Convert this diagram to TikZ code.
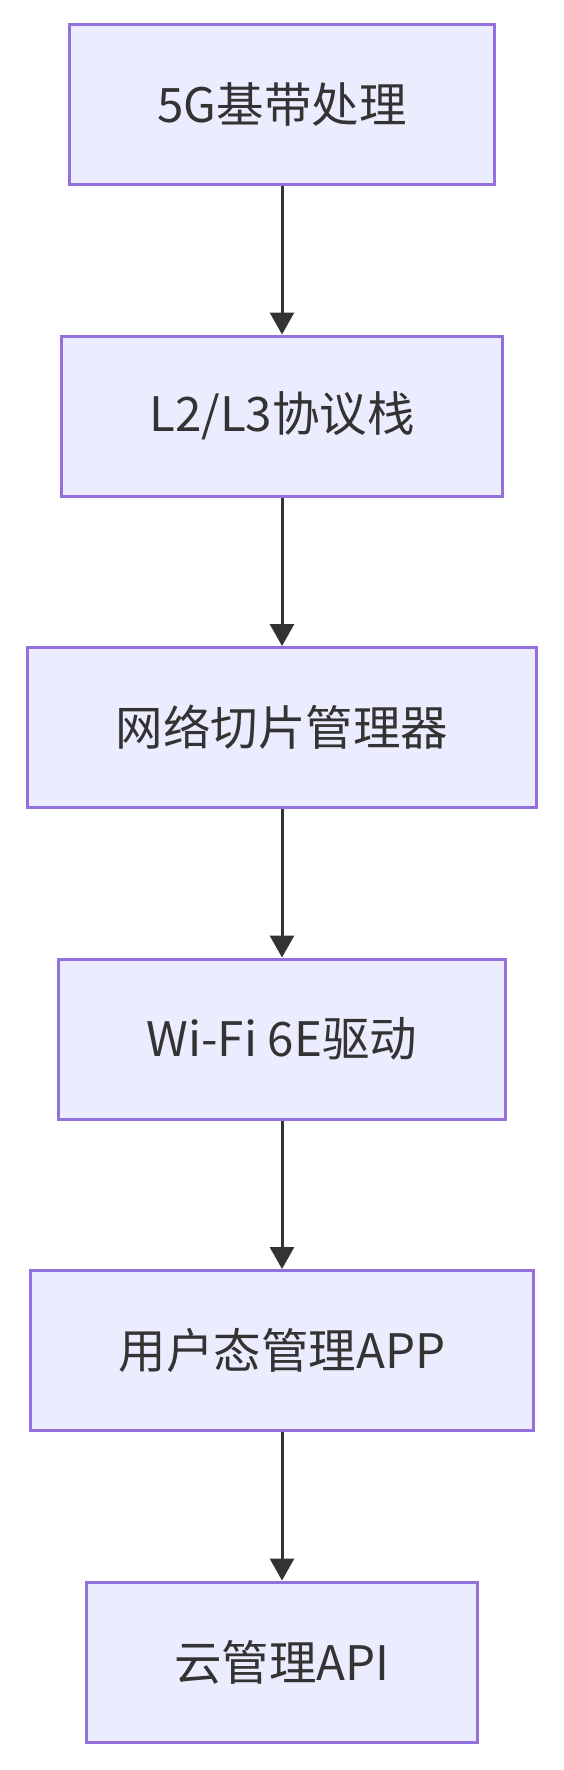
\documentclass[tikz,border=0pt]{standalone}
\usepackage{fontspec}
\setmainfont{Noto Sans CJK SC}
\usetikzlibrary{arrows.meta}
\usetikzlibrary{shapes,positioning}
\definecolor{boxFill}{HTML}{ECECFF}
\definecolor{boxLine}{HTML}{9370DB}
\definecolor{penColor}{HTML}{333333}
\tikzset{>={Triangle[length=22pt,width=24pt]}}
\tikzset{stage/.style={draw=boxLine,line width=3pt,fill=boxFill,text=penColor,
    minimum height=160pt,inner xsep=88pt,font=\fontsize{47.5pt}{57pt}\selectfont}}

\begin{document}
\begin{tikzpicture}[x=1pt,y=1pt,node distance=148.5pt]
				\useasboundingbox (0,0) rectangle (564,-1770);
				\node[stage] (baseband) at (282,-104.5) {5G基带处理};
				\node[stage,below=of baseband] (stack) {L2/L3协议栈};
				\node[stage,below=of stack] (slice) {网络切片管理器};
				\node[stage,below=of slice] (wifi) {Wi-Fi 6E驱动};
				\node[stage,below=of wifi] (app) {用户态管理APP};
				\node[stage,below=of app] (cloud) {云管理API};
				\draw[->,penColor,line width=3pt] (baseband) -- (stack);
				\draw[->,penColor,line width=3pt] (stack) -- (slice);
				\draw[->,penColor,line width=3pt] (slice) -- (wifi);
				\draw[->,penColor,line width=3pt] (wifi) -- (app);
				\draw[->,penColor,line width=3pt] (app) -- (cloud);
\end{tikzpicture}
\end{document}
